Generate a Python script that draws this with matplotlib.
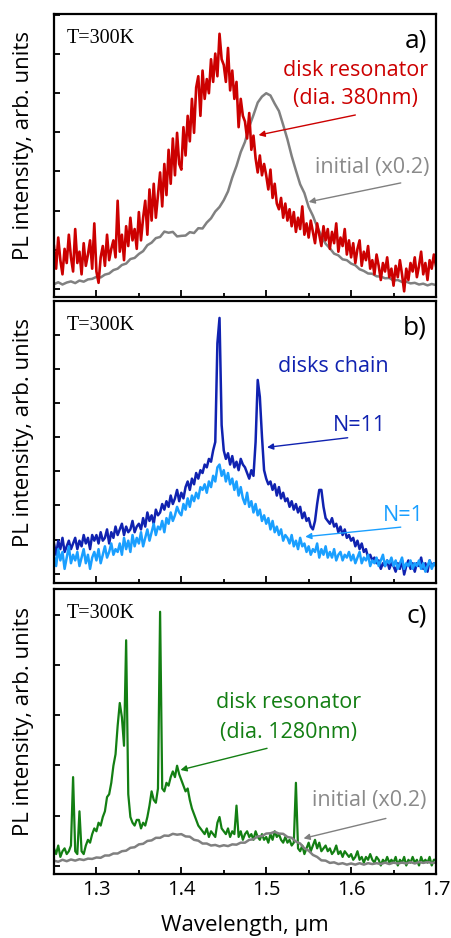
import numpy as np
import matplotlib

matplotlib.use("Agg")

import matplotlib.pyplot as plt
from matplotlib.ticker import MultipleLocator

plt.rcParams["font.family"] = ["Open Sans", "DejaVu Sans"]

# ---------------------------------------------------------------------------
# Datos (intensidad en % de la altura del panel, unidades arbitrarias)
# ---------------------------------------------------------------------------

# Rejillas de longitud de onda (um): fina para espectros ruidosos,
# gruesa para las referencias suaves "initial (x0.2)".
lam_fino = np.round(1.25 + 0.0025 * np.arange(181), 4)
lam_grueso = np.round(1.25 + 0.005 * np.arange(91), 3)

# Panel a) disco 380 nm
disco_380 = [
    18, 10, 21, 13, 8, 17, 12, 22, 14, 9,
    24, 12, 16, 8, 19, 11, 15, 20, 10, 26,
    9, 5, 14, 18, 11, 22, 13, 17, 20, 14,
    34, 16, 22, 13, 25, 18, 28, 20, 24, 17,
    30, 20, 28, 34, 22, 38, 27, 40, 28, 36,
    44, 32, 47, 36, 52, 40, 56, 43, 58, 47,
    45, 60, 50, 64, 55, 70, 58, 74, 78, 64,
    80, 70, 77, 72, 84, 76, 86, 78, 93, 84,
    82, 76, 88, 73, 80, 70, 76, 60, 70, 64,
    62, 56, 65, 52, 57, 49, 44, 50, 43, 47,
    43, 38, 45, 35, 40, 33, 31, 35, 28, 33,
    27, 31, 25, 30, 23, 28, 24, 32, 22, 26,
    21, 27, 23, 19, 26, 22, 18, 25, 20, 24,
    17, 23, 19, 26, 16, 21, 18, 24, 15, 20,
    14, 19, 12, 17, 20, 11, 16, 13, 18, 10,
    13, 8, 15, 11, 6, 12, 9, 14, 7, 10,
    4, 11, 7, 13, 8, 2, 10, 6, 12, 9,
    14, 7, 11, 16, 8, 12, 6, 13, 10, 15,
    11,
]

inicial_a = [
    4.5, 5.2, 4.4, 5.1, 5.5, 4.9, 5.8, 5.4, 6.2, 6.4,
    7.1, 6.9, 7.9, 8.3, 9.5, 10.0, 11.3, 11.8, 13.4, 13.8,
    15.2, 16.2, 18.3, 19.2, 20.8, 21.2, 23.1, 22.7, 23.0, 21.4,
    21.6, 21.7, 22.9, 22.6, 24.3, 24.2, 26.3, 27.8, 30.2, 31.8,
    34.2, 37.3, 42.2, 46.3, 51.2, 54.8, 60.2, 64.3, 68.7, 70.8,
    72.0, 71.2, 68.3, 65.7, 60.8, 55.7, 49.8, 44.7, 39.8, 36.7,
    31.8, 28.7, 24.8, 21.7, 18.8, 17.2, 15.3, 14.7, 13.3, 13.0,
    11.8, 11.2, 9.8, 9.2, 8.3, 8.2, 7.3, 7.2, 6.6, 6.7,
    5.8, 6.0, 5.3, 5.4, 4.8, 5.0, 4.4, 4.7, 4.1, 4.6,
    4.2,
]

# Panel b) cadena de discos N=11 y disco aislado N=1
cadena_n11 = [
    14, 10, 15, 12, 16, 11, 13, 15, 12, 14,
    16, 12, 15, 13, 17, 14, 16, 12, 17, 15,
    17, 14, 18, 15, 16, 19, 14, 18, 16, 20,
    17, 19, 21, 17, 20, 18, 19, 22, 18, 20,
    21, 19, 23, 20, 25, 22, 24, 21, 26, 24,
    25, 28, 26, 29, 27, 31, 28, 30, 33, 29,
    32, 30, 34, 36, 33, 37, 35, 39, 37, 40,
    39, 42, 41, 44, 43, 47, 50, 85, 94, 56,
    47, 44, 46, 42, 45, 41, 43, 40, 44, 42,
    41, 39, 37, 40, 38, 50, 72, 66, 52, 40,
    37, 35, 36, 33, 35, 31, 34, 30, 32, 29,
    30, 27, 29, 26, 28, 25, 27, 23, 25, 22,
    23, 20, 19, 22, 28, 33, 33, 27, 23, 22,
    21, 23, 20, 21, 18, 20, 17, 19, 16, 17,
    15, 16, 13, 15, 12, 14, 11, 12, 9, 10,
    8, 9, 7, 8, 5, 7, 6, 8, 5, 7,
    6, 4, 7, 5, 8, 3, 6, 8, 5, 7,
    4, 7, 6, 9, 5, 7, 4, 8, 6, 7,
    6,
]

cadena_n1 = [
    10, 6, 12, 8, 11, 5, 9, 13, 7, 10,
    8, 11, 6, 9, 12, 7, 10, 5, 9, 11,
    8, 12, 7, 10, 13, 9, 11, 14, 10, 12,
    11, 14, 10, 16, 12, 15, 11, 17, 13, 16,
    14, 18, 13, 16, 19, 15, 18, 21, 17, 20,
    19, 22, 18, 23, 21, 25, 22, 24, 27, 25,
    24, 28, 26, 30, 27, 31, 29, 32, 30, 34,
    33, 35, 32, 36, 34, 38, 36, 41, 42, 38,
    40, 36, 39, 35, 37, 33, 36, 31, 34, 30,
    28, 32, 27, 29, 25, 28, 24, 26, 22, 24,
    21, 23, 19, 22, 18, 20, 17, 19, 15, 17,
    16, 14, 17, 13, 15, 12, 16, 13, 14, 11,
    13, 10, 12, 11, 14, 9, 12, 10, 13, 9,
    11, 9, 12, 8, 10, 11, 8, 10, 9, 11,
    8, 10, 7, 9, 11, 7, 9, 8, 10, 6,
    8, 7, 9, 6, 8, 10, 6, 8, 7, 9,
    6, 8, 5, 7, 9, 5, 7, 6, 8, 5,
    7, 6, 8, 5, 7, 4, 6, 8, 5, 7,
    6,
]

# Panel c) disco 1280 nm
disco_1280 = [
    9, 7, 10, 6, 8, 9, 7, 8, 10, 34,
    8, 7, 22, 8, 7, 10, 12, 11, 14, 16,
    15, 18, 17, 20, 22, 27, 28, 32, 38, 42,
    52, 60, 55, 45, 82, 28, 20, 18, 17, 19,
    19, 16, 18, 17, 20, 24, 29, 26, 25, 30,
    92, 30, 29, 32, 31, 34, 36, 34, 38, 35,
    33, 31, 29, 30, 26, 23, 21, 19, 17, 16,
    15, 14, 16, 13, 15, 14, 13, 18, 20, 16,
    15, 14, 16, 13, 15, 14, 24, 13, 15, 12,
    14, 15, 13, 14, 12, 15, 13, 12, 14, 12,
    13, 11, 14, 12, 15, 13, 14, 12, 11, 13,
    11, 12, 10, 11, 32, 9, 8, 10, 7, 9,
    11, 8, 10, 12, 9, 11, 8, 9, 10, 8,
    9, 7, 8, 10, 7, 8, 6, 8, 7, 6,
    7, 5, 6, 8, 5, 6, 4, 6, 5, 7,
    5, 4, 6, 5, 3, 5, 4, 6, 4, 5,
    4, 6, 3, 5, 4, 6, 3, 5, 4, 6,
    4, 5, 3, 6, 4, 5, 4, 6, 3, 5,
    5,
]

inicial_c = [
    4.7, 4.3, 5.0, 4.5, 5.1, 4.7, 5.2, 4.9, 5.4, 5.3,
    5.8, 5.7, 6.5, 6.5, 7.2, 7.2, 8.0, 8.2, 9.2, 9.4,
    10.4, 10.6, 11.6, 11.8, 12.7, 12.7, 13.5, 13.4, 14.1, 13.8,
    14.0, 13.2, 13.1, 12.0, 11.7, 10.7, 10.7, 10.0, 10.2, 9.7,
    10.1, 9.8, 10.4, 10.3, 11.0, 11.0, 12.0, 12.2, 13.2, 13.3,
    14.2, 14.3, 14.8, 14.2, 14.1, 13.0, 12.7, 11.4, 10.7, 9.0,
    8.2, 6.7, 6.0, 4.8, 4.7, 3.9, 4.1, 3.5, 3.8, 3.3,
    3.7, 3.3, 3.8, 3.3, 3.8, 3.5, 3.8, 3.5, 4.0, 3.5,
    4.0, 3.7, 4.0, 3.7, 4.2, 3.7, 4.2, 3.9, 4.2, 3.9,
    4.0,
]

ROJO = "#cc0000"
GRIS = "#808080"
GRIS_TEXTO = "#8a8a8a"
AZUL = "#1022b0"
CELESTE = "#1a9fff"
VERDE = "#137f13"

ETIQUETA_Y = "PL intensity, arb. units"


def preparar_eje(eje, paso_y, offset_y, letra, con_numeros):
    """Ejes comunes: marcas hacia dentro, sin numeros en Y."""
    eje.set_xlim(1.25, 1.70)
    eje.set_ylim(0, 100)
    eje.xaxis.set_major_locator(MultipleLocator(0.1))
    eje.xaxis.set_minor_locator(MultipleLocator(0.05))
    eje.yaxis.set_major_locator(MultipleLocator(paso_y, offset=offset_y))
    eje.tick_params(axis="both", which="both", direction="in",
                    top=False, right=False, width=1.3)
    eje.tick_params(axis="x", which="major", length=5, pad=4,
                    labelsize=14.5)
    eje.tick_params(axis="x", which="minor", length=3)
    eje.tick_params(axis="y", which="major", length=4, labelleft=False)
    if not con_numeros:
        eje.tick_params(axis="x", which="both", labelbottom=False)
    for borde in eje.spines.values():
        borde.set_linewidth(1.6)
    eje.set_ylabel(ETIQUETA_Y, fontsize=16)
    eje.yaxis.set_label_coords(-0.052, 0.535)
    eje.text(0.033, 0.947, "T=300K", transform=eje.transAxes,
             family="Liberation Serif", fontsize=14.5, ha="left", va="top")
    eje.text(0.976, 0.95, letra, transform=eje.transAxes,
             fontsize=19, ha="right", va="top")


def flecha(eje, texto_xy, punta_xy, color):
    eje.annotate("", xy=punta_xy, xytext=texto_xy,
                 arrowprops=dict(arrowstyle="-|>", color=color, lw=1.0,
                                 mutation_scale=9, shrinkA=0, shrinkB=0))


figura = plt.figure(figsize=(4.51, 9.38), dpi=100)
eje_a = figura.add_axes([0.1197, 0.6834, 0.847, 0.3017])
eje_b = figura.add_axes([0.1197, 0.3785, 0.847, 0.3006])
eje_c = figura.add_axes([0.1197, 0.0682, 0.847, 0.3039])

# --- a) ---
eje_a.plot(lam_grueso, inicial_a, color=GRIS, lw=1.8)
eje_a.plot(lam_fino, disco_380, color=ROJO, lw=1.9)
preparar_eje(eje_a, 13.85, 2.8, "a)", False)
eje_a.text(0.79, 0.80, "disk resonator", transform=eje_a.transAxes,
           color=ROJO, fontsize=15.5, ha="center", va="center")
eje_a.text(0.79, 0.70, "(dia. 380nm)", transform=eje_a.transAxes,
           color=ROJO, fontsize=15.5, ha="center", va="center")
flecha(eje_a, (1.605, 64.3), (1.491, 57.2), ROJO)
eje_a.text(0.832, 0.456, "initial (x0.2)", transform=eje_a.transAxes,
           color=GRIS_TEXTO, fontsize=15.5, ha="center", va="center")
flecha(eje_a, (1.6585, 40.3), (1.550, 33.6), GRIS)

# --- b) ---
eje_b.plot(lam_fino, cadena_n11, color=AZUL, lw=1.8)
eje_b.plot(lam_fino, cadena_n1, color=CELESTE, lw=1.8)
preparar_eje(eje_b, 12.1, 3.3, "b)", False)
eje_b.text(0.73, 0.766, "disks chain", transform=eje_b.transAxes,
           color=AZUL, fontsize=15.5, ha="center", va="center")
eje_b.text(0.80, 0.557, "N=11", transform=eje_b.transAxes,
           color=AZUL, fontsize=15.5, ha="center", va="center")
flecha(eje_b, (1.596, 51.5), (1.501, 48.1), AZUL)
eje_b.text(0.914, 0.241, "N=1", transform=eje_b.transAxes,
           color=CELESTE, fontsize=15.5, ha="center", va="center")
flecha(eje_b, (1.6585, 19.8), (1.546, 16.4), CELESTE)

# --- c) ---
eje_c.plot(lam_fino, disco_1280, color=VERDE, lw=1.6)
eje_c.plot(lam_grueso, inicial_c, color=GRIS, lw=1.8)
preparar_eje(eje_c, 17.6, 2.9, "c)", True)
eje_c.text(0.613, 0.60, "disk resonator", transform=eje_c.transAxes,
           color=VERDE, fontsize=15.5, ha="center", va="center")
eje_c.text(0.613, 0.495, "(dia. 1280nm)", transform=eje_c.transAxes,
           color=VERDE, fontsize=15.5, ha="center", va="center")
flecha(eje_c, (1.501, 44.1), (1.399, 36.5), VERDE)
eje_c.text(0.825, 0.257, "initial (x0.2)", transform=eje_c.transAxes,
           color=GRIS_TEXTO, fontsize=15.5, ha="center", va="center")
flecha(eje_c, (1.641, 19.5), (1.544, 12.5), GRIS)
eje_c.set_xlabel("Wavelength, \u03bcm", fontsize=16, labelpad=11)

figura.savefig("out.png", dpi=100)
plt.close(figura)
